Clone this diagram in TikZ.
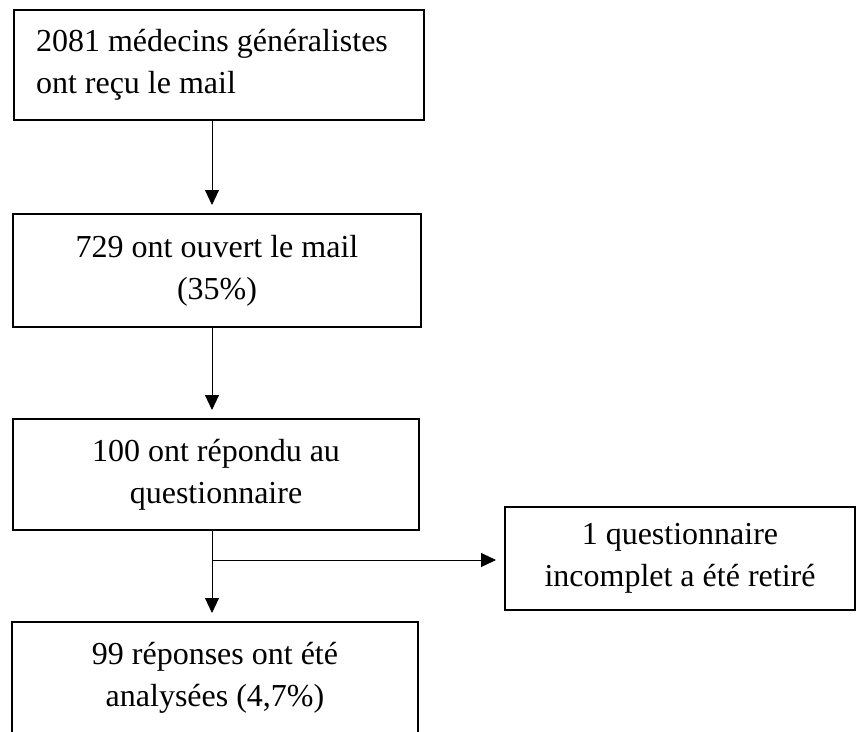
\documentclass[tikz,border=0pt]{standalone}
\usepackage{fontspec}
\setmainfont{Liberation Serif}
\usetikzlibrary{arrows.meta, positioning}

\tikzset{
    box/.style={rectangle, draw, line width=2pt, inner sep=0pt, align=center,
        font=\fontsize{32}{42}\selectfont},
    arr/.style={-{Triangle[width=14pt,length=15pt]}, line width=1pt, shorten >=8pt}
}

\begin{document}
\begin{tikzpicture}[x=1pt, y=-1pt]
        \useasboundingbox (0,0) rectangle (861,731);
        \clip (0,0) rectangle (861,731);

        \node[box, minimum width=410pt, minimum height=110pt, text width=366pt, align=flush left] (mail) at (219, 65) {2081 médecins généralistes\\ont reçu le mail};
        \node[box, minimum width=408pt, minimum height=113pt] (open) at (217, 270.5) {729 ont ouvert le mail\\(35\%)};
        \node[box, minimum width=406pt, minimum height=111pt] (resp) at (216, 474.5) {100 ont répondu au\\questionnaire};
        \node[box, minimum width=350pt, minimum height=103pt] (out) at (680, 558.5) {1 questionnaire\\incomplet a été retiré};
        \node[box, minimum width=406pt, minimum height=112pt] (ana) at (215, 678) {99 réponses ont été\\analysées (4,7\%)};

        \coordinate (spine) at (212, 0);
        \coordinate (split) at (212, 560);

        \draw[arr] (mail.south -| spine) to (open.north -| spine);
        \draw[arr] (open.south -| spine) to (resp.north -| spine);
        \draw[arr] (resp.south -| spine) to (ana.north -| spine);
        \draw[arr] (split) to (out.west |- split);
    \end{tikzpicture}
\end{document}
